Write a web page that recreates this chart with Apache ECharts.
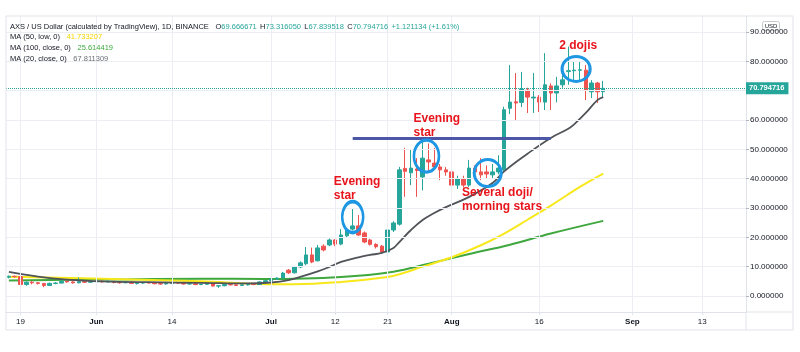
<!DOCTYPE html>
<html>
<head>
<meta charset="utf-8">
<script src="https://cdn.jsdelivr.net/npm/echarts@6/dist/echarts.min.js"></script>
<style>
html, body { margin: 0; padding: 0; background: #fff; }
#chart { width: 800px; height: 352px; }
</style>
</head>
<body>
<div id="chart"></div>
<script>
// x axis: one category per day, May 17 .. Sep 20 2021
var firstDay = [2021, 4, 17];
var dayCount = 127;

var tickDays = ['2021-05-19', '2021-06-01', '2021-06-14', '2021-07-01', '2021-07-12',
                '2021-07-21', '2021-08-01', '2021-08-16', '2021-09-01', '2021-09-13'];
var tickLabels = ['19', 'Jun', '14', 'Jul', '12', '21', 'Aug', '16', 'Sep', '13'];

var priceTicks = [0, 10, 20, 30, 40, 50, 60, 70, 80, 90];

// daily candles from May 17: [open, close, low, high]
var candles = [
  // May 17 - 31
  [6.4, 6.7, 6.0, 7.0], [6.7, 6.6, 6.3, 7.0], [6.6, 3.9, 2.7, 6.9], [3.9, 4.7, 3.5, 5.0],
  [4.7, 4.5, 4.0, 5.1], [4.5, 4.3, 3.9, 4.8], [4.3, 3.6, 3.0, 4.4], [3.6, 4.3, 3.5, 4.6],
  [4.3, 4.4, 4.0, 4.7], [4.4, 5.0, 4.3, 5.3], [5.0, 4.8, 4.5, 5.2], [4.8, 4.5, 4.2, 5.0],
  [4.5, 4.9, 4.3, 6.3], [4.9, 4.7, 4.4, 5.1], [4.7, 4.9, 4.5, 5.2],
  // Jun 1 - 30
  [4.9, 5.0, 4.6, 5.4], [5.0, 4.8, 4.6, 5.3], [4.8, 5.0, 4.7, 5.3], [5.0, 4.6, 4.3, 5.1],
  [4.6, 4.5, 4.2, 4.9], [4.5, 4.7, 4.4, 4.9], [4.7, 4.3, 4.1, 4.9], [4.3, 4.4, 3.9, 4.6],
  [4.4, 4.6, 4.1, 4.8], [4.6, 4.4, 4.2, 4.8], [4.4, 4.2, 4.0, 4.6], [4.2, 4.1, 3.8, 4.4],
  [4.1, 4.3, 3.9, 4.5], [4.3, 4.5, 4.1, 4.8], [4.5, 4.4, 4.2, 4.7], [4.4, 4.1, 3.9, 4.6],
  [4.1, 4.2, 3.9, 4.4], [4.2, 3.9, 3.7, 4.3], [3.9, 4.0, 3.7, 4.2], [4.0, 4.3, 3.8, 4.5],
  [4.3, 3.4, 3.2, 4.4], [3.4, 3.5, 2.8, 3.7], [3.5, 3.9, 3.3, 4.1], [3.9, 3.8, 3.6, 4.1],
  [3.8, 3.6, 3.4, 4.0], [3.6, 3.8, 3.4, 4.0], [3.8, 4.0, 3.6, 4.2], [4.0, 3.9, 3.7, 4.2],
  [3.9, 4.8, 3.8, 5.0], [4.8, 5.2, 4.6, 5.4],
  // Jul 1 - 31
  [5.2, 5.8, 5.0, 6.1], [5.8, 6.1, 5.5, 6.4], [6.1, 7.8, 6.0, 8.2], [8.8, 7.9, 7.5, 9.2],
  [7.9, 9.9, 7.7, 10.2], [9.9, 11.3, 9.5, 11.8], [11.0, 14.0, 10.5, 16.7], [14.0, 11.6, 11.2, 16.5],
  [12.0, 16.4, 11.8, 17.4], [17.0, 15.7, 15.2, 17.6], [17.4, 19.1, 17.0, 19.6], [19.1, 17.7, 17.0, 19.4],
  [17.7, 20.8, 17.3, 22.8], [20.5, 22.5, 20.0, 23.0], [22.8, 23.9, 22.3, 30.0], [23.9, 20.8, 20.5, 27.6],
  [21.5, 18.4, 18.0, 22.0], [19.1, 17.6, 17.2, 19.5], [17.6, 16.8, 16.2, 18.0], [17.0, 15.0, 14.5, 17.4],
  [15.0, 22.5, 14.2, 23.0], [22.5, 24.9, 21.8, 25.5], [24.5, 43.0, 24.0, 44.0], [43.5, 42.5, 33.8, 50.5],
  [42.0, 43.6, 37.8, 49.8], [43.3, 42.8, 33.8, 47.0], [40.6, 47.0, 36.0, 52.5], [46.4, 45.7, 42.3, 52.0],
  [45.3, 44.0, 43.0, 50.5], [44.0, 43.0, 39.5, 45.0], [43.0, 42.3, 41.0, 44.0],
  // Aug 1 - 27
  [42.3, 37.8, 36.8, 43.0], [37.8, 40.0, 36.5, 41.0], [40.0, 37.8, 37.0, 41.0], [37.8, 43.6, 37.2, 46.4],
  [43.6, 42.3, 41.0, 44.5], [42.3, 41.3, 39.5, 47.0], [42.3, 41.6, 40.0, 44.5], [41.3, 42.3, 40.0, 45.0],
  [42.3, 43.6, 41.5, 48.0], [43.0, 63.5, 42.5, 64.5], [64.0, 66.1, 62.0, 78.7], [66.2, 65.8, 60.0, 76.0],
  [66.0, 70.6, 64.4, 76.4], [70.2, 67.8, 62.4, 71.0], [67.5, 67.8, 62.4, 76.0], [67.8, 66.1, 62.7, 68.5],
  [66.1, 72.0, 63.4, 82.8], [71.6, 69.2, 63.4, 72.5], [69.2, 71.6, 66.0, 74.7], [72.0, 73.7, 71.0, 75.5],
  [76.5, 76.8, 72.0, 85.0], [76.8, 77.0, 73.6, 79.8], [77.0, 77.1, 73.6, 79.8], [77.0, 70.2, 66.8, 78.8],
  [69.6, 72.6, 67.5, 73.6], [72.6, 69.6, 65.8, 73.0], [69.666671, 70.794716, 67.839518, 73.31605]
];

// moving averages
var ma20 = [
  ['2021-05-17', 8.2], ['2021-05-22', 6.6], ['2021-05-27', 5.6], ['2021-06-02', 5.0],
  ['2021-06-10', 4.7], ['2021-06-19', 4.5], ['2021-06-27', 4.3], ['2021-07-01', 4.6],
  ['2021-07-04', 5.4], ['2021-07-06', 6.5], ['2021-07-09', 8.4], ['2021-07-11', 9.9],
  ['2021-07-13', 11.6], ['2021-07-16', 13.2], ['2021-07-18', 14.0], ['2021-07-20', 14.7],
  ['2021-07-22', 16.4], ['2021-07-23', 18.4], ['2021-07-25', 22.5], ['2021-07-27', 25.9],
  ['2021-07-29', 28.3], ['2021-07-31', 30.3], ['2021-08-04', 33.8], ['2021-08-08', 38.5],
  ['2021-08-10', 42.5], ['2021-08-14', 48.5], ['2021-08-18', 53.9], ['2021-08-21', 57.0],
  ['2021-08-22', 58.5], ['2021-08-24', 62.4], ['2021-08-26', 66.8], ['2021-08-27', 67.811309]
];
var ma50 = [
  ['2021-05-17', 6.6], ['2021-06-02', 5.9], ['2021-06-19', 5.0], ['2021-06-29', 4.1],
  ['2021-07-05', 4.0], ['2021-07-13', 4.8], ['2021-07-21', 6.5], ['2021-07-23', 7.4],
  ['2021-07-27', 10.0], ['2021-08-01', 13.2], ['2021-08-06', 17.3], ['2021-08-10', 21.3],
  ['2021-08-14', 26.0], ['2021-08-18', 30.8], ['2021-08-23', 37.2], ['2021-08-27', 41.733207]
];
var ma100 = [
  ['2021-05-17', 5.3], ['2021-06-02', 5.6], ['2021-06-19', 5.9], ['2021-06-30', 5.8],
  ['2021-07-13', 6.5], ['2021-07-22', 8.3], ['2021-07-28', 11.0], ['2021-08-04', 14.3],
  ['2021-08-11', 17.5], ['2021-08-18', 21.3], ['2021-08-27', 25.614419]
];

var lastPrice = 70.794716;
var resistance = [['2021-07-15', 53.9], ['2021-08-18', 53.9]];

// annotations
var notes = [
  { text: 'Evening\nstar', day: '2021-07-12', value: 36.5, dx: -2 },
  { text: 'Evening\nstar', day: '2021-07-25', value: 58.0, dx: 2 },
  { text: 'Several doji/\nmorning stars', day: '2021-08-02', value: 32.7, dx: 4 },
  { text: '2 dojis', day: '2021-08-19', value: 85.2, dx: 2 }
];
var rings = [
  { day: '2021-07-15', value: 26.9, w: 21, h: 31, dx: 0 },
  { day: '2021-07-28', value: 47.7, w: 25, h: 32, dx: -2 },
  { day: '2021-08-07', value: 41.9, w: 27, h: 27, dx: 1 },
  { day: '2021-08-22', value: 77.4, w: 28, h: 25, dx: 2 }
];

var days = [];
for (var i = 0; i < dayCount; i++) {
  var d = new Date(Date.UTC(firstDay[0], firstDay[1], firstDay[2] + i));
  days.push(d.toISOString().slice(0, 10));
}

var UP = '#26a69a', DOWN = '#ef5350';
var GRID = '#eceef3', FRAME = '#e0e3eb', TXT = '#131722';
var FONT = 'Liberation Sans, Arial, sans-serif';
var ellipse = 'path://M0,50 A50,50 0 1,1 100,50 A50,50 0 1,1 0,50 Z';

function legendText(top, label, value, color) {
  return {
    type: 'text', left: 10, top: top, z: 100, silent: true,
    style: {
      text: '{t|' + label + '}  {v|' + value + '}',
      rich: {
        t: { fontSize: 7.5, fill: TXT, fontFamily: FONT },
        v: { fontSize: 7.5, fill: color, fontFamily: FONT }
      }
    }
  };
}

var chart = echarts.init(document.getElementById('chart'), null, { renderer: 'canvas' });

chart.setOption({
  animation: false,
  backgroundColor: '#fff',
  textStyle: { fontFamily: FONT },
  grid: { left: 6, right: 54, top: 16, bottom: 40 },
  xAxis: {
    type: 'category',
    data: days,
    boundaryGap: true,
    axisLine: { show: true, onZero: false, lineStyle: { color: FRAME } },
    axisTick: {
      show: true, alignWithLabel: true, length: 3, lineStyle: { color: FRAME },
      interval: function (idx, val) { return tickDays.indexOf(val) >= 0; }
    },
    axisLabel: {
      interval: function (idx, val) { return tickDays.indexOf(val) >= 0; },
      formatter: function (val) {
        var t = tickLabels[tickDays.indexOf(val)];
        return /^[A-Z]/.test(t) ? '{m|' + t + '}' : t;
      },
      color: TXT, fontSize: 8, margin: 6,
      rich: { m: { fontWeight: 'bold', fontSize: 8, color: TXT } }
    },
    splitLine: { show: false }
  },
  yAxis: {
    type: 'value',
    position: 'right',
    min: -5.4545,
    max: 95.4545,
    axisLine: { show: true, lineStyle: { color: FRAME } },
    axisTick: { show: true, length: 3, customValues: priceTicks, lineStyle: { color: '#b2b5be' } },
    axisLabel: {
      customValues: priceTicks,
      formatter: function (v) { return v.toFixed(6); },
      color: TXT, fontSize: 8, margin: 4
    },
    splitLine: { show: false }
  },
  series: [
    {
      // grid lines
      type: 'line', data: [], z: 1, silent: true,
      markLine: {
        silent: true, symbol: 'none', animation: false,
        label: { show: false },
        lineStyle: { color: GRID, width: 1, type: 'solid' },
        data: tickDays.map(function (d) { return { xAxis: d }; })
          .concat(priceTicks.map(function (v) { return { yAxis: v }; }))
      }
    },
    {
      name: 'MA100', type: 'line', data: ma100, smooth: 0.4, symbol: 'none', z: 2,
      lineStyle: { color: '#3ea73e', width: 2 }
    },
    {
      name: 'MA50', type: 'line', data: ma50, smooth: 0.4, symbol: 'none', z: 2,
      lineStyle: { color: '#f7e81c', width: 2 }
    },
    {
      name: 'AXSUSD', type: 'candlestick', data: candles, z: 3,
      barWidth: 4,
      itemStyle: { color: UP, color0: DOWN, borderColor: UP, borderColor0: DOWN, borderWidth: 1 },
      markLine: {
        silent: true, symbol: 'none', animation: false,
        lineStyle: { color: UP, type: 'dotted', width: 1 },
        label: {
          show: true, position: 'end', distance: 0,
          formatter: lastPrice.toFixed(6),
          backgroundColor: UP, color: '#fff', fontSize: 7.5, fontWeight: 'bold',
          padding: [2, 4, 2, 3]
        },
        data: [{ yAxis: lastPrice }]
      }
    },
    {
      name: 'MA20', type: 'line', data: ma20, smooth: 0.4, symbol: 'none', z: 4,
      lineStyle: { color: '#505358', width: 1.8 }
    },
    {
      // annotations
      type: 'line', data: [], z: 6, silent: true,
      markLine: {
        silent: true, symbol: 'none', animation: false,
        label: { show: false },
        lineStyle: { color: '#4d57a8', width: 3, type: 'solid' },
        data: [[{ coord: resistance[0] }, { coord: resistance[1] }]]
      },
      markPoint: {
        silent: true, animation: false,
        data: rings.map(function (r) {
          return {
            coord: [r.day, r.value], symbol: ellipse, symbolSize: [r.w, r.h], symbolOffset: [r.dx, 0],
            itemStyle: { color: 'rgba(0,0,0,0)', borderColor: '#1d96e3', borderWidth: 3 },
            label: { show: false }
          };
        }).concat(notes.map(function (n) {
          return {
            coord: [n.day, n.value], symbol: 'rect', symbolSize: 1,
            itemStyle: { color: 'rgba(0,0,0,0)' },
            label: {
              show: true, position: 'right', distance: 0, offset: [n.dx, 0],
              formatter: n.text, color: '#e8141b', fontWeight: 'bold', fontSize: 12,
              lineHeight: 14, align: 'left', fontFamily: FONT
            }
          };
        }))
      }
    }
  ],
  graphic: [
    { type: 'rect', z: 50, shape: { x: 6, y: 16, width: 787, height: 314 }, style: { fill: 'none', stroke: FRAME, lineWidth: 1 }, silent: true },
    { type: 'line', z: 50, shape: { x1: 746, y1: 312, x2: 793, y2: 312 }, style: { stroke: FRAME }, silent: true },
    { type: 'line', z: 50, shape: { x1: 746, y1: 312, x2: 746, y2: 330 }, style: { stroke: FRAME }, silent: true },
    {
      type: 'text', left: 10, top: 21, z: 100, silent: true,
      style: {
        text: '{t|AXS / US Dollar (calculated by TradingView), 1D, BINANCE}  {k|O}{v|69.666671} {k|H}{v|73.316050} {k|L}{v|67.839518} {k|C}{v|70.794716} {v|+1.121134 (+1.61%)}',
        rich: {
          t: { fontSize: 7.5, fill: TXT, fontFamily: FONT },
          k: { fontSize: 7.5, fill: TXT, fontFamily: FONT },
          v: { fontSize: 7.5, fill: UP, fontFamily: FONT }
        }
      }
    },
    legendText(31, 'MA (50, low, 0)', '41.733207', '#f2d600'),
    legendText(42, 'MA (100, close, 0)', '25.614419', '#3ea73e'),
    legendText(53, 'MA (20, close, 0)', '67.811309', '#6a6d75'),
    {
      type: 'group', left: 762, top: 21, z: 100, silent: true,
      children: [
        { type: 'rect', shape: { x: 0, y: 0, width: 17, height: 9, r: 2 }, style: { fill: '#fff', stroke: '#c8cad0' } },
        { type: 'text', x: 8.5, y: 4.5, style: { text: 'USD', fontSize: 6, fill: TXT, align: 'center', verticalAlign: 'middle', fontFamily: FONT } }
      ]
    }
  ]
});
</script>
</body>
</html>
